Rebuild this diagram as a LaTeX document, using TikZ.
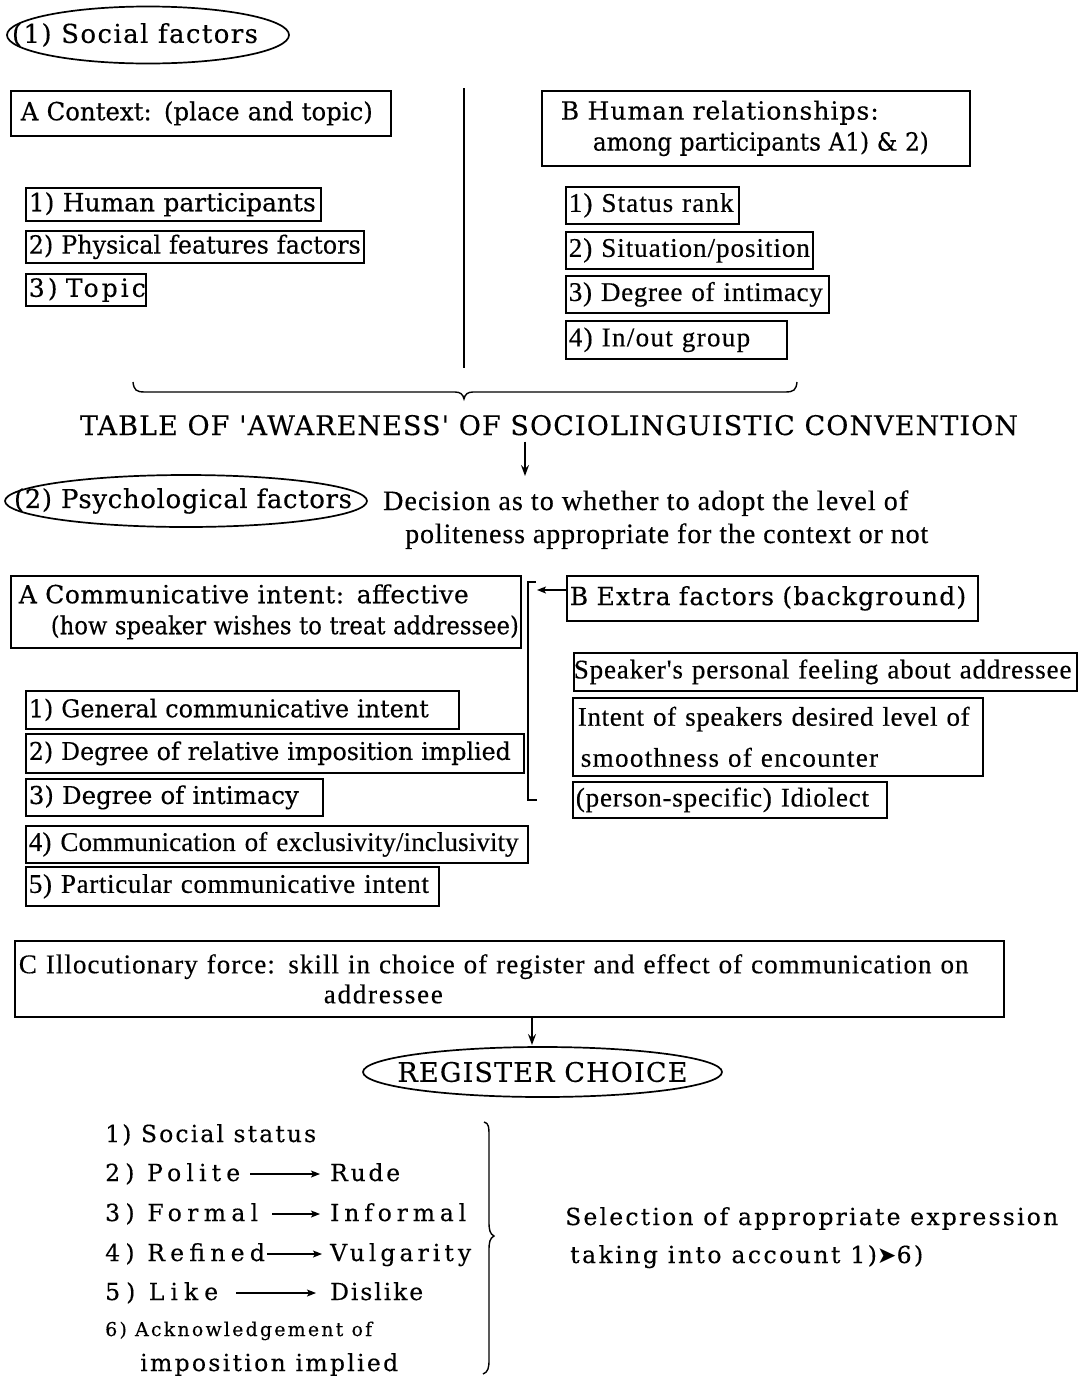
\documentclass[tikz,border=0pt]{standalone}
\usepackage{fontspec}
\usepackage{graphicx}
\setmainfont{Liberation Serif}[Ligatures=TeXOff, FakeBold=0.4]
\newfontfamily\wide{DejaVu Serif}[Ligatures=TeXOff, FakeBold=0.3]
\newfontfamily\symf{DejaVu Sans}
\usetikzlibrary{shapes.geometric,arrows.meta,calc}

% text set to a given width: letter-spaced when short, condensed when long
\ExplSyntaxOn
\box_new:N \l_fit_box
\fp_new:N \l_fit_fp
\int_new:N \l_fit_int
\NewDocumentCommand \fitw { O{} m m }
  {
    \hbox_set:Nn \l_fit_box { #3 }
    \fp_set:Nn \l_fit_fp { #2 - \dim_to_fp:n { \box_wd:N \l_fit_box } }
    \tl_if_blank:nTF {#1}
      { \int_set:Nn \l_fit_int { \str_count_ignore_spaces:n {#3} } }
      { \int_set:Nn \l_fit_int {#1} }
    \fp_compare:nNnTF { \l_fit_fp } > { 0 }
      {
        \mbox
          {
            \exp_args:Ne \addfontfeature
              { LetterSpace = \fp_eval:n { round ( 100 * \l_fit_fp / ( \l_fit_int - 1 ) / \dim_to_fp:n { \fontdimen6 \font } , 2 ) } }
            #3
          }
      }
      {
        \exp_args:Ne \scalebox
          { \fp_eval:n { round ( #2 / \dim_to_fp:n { \box_wd:N \l_fit_box } , 4 ) } }
          [1] { #3 }
      }
  }
\ExplSyntaxOff

% wide serif for the headings and boxes, narrow serif for the compact texts
\newcommand\fnA{\wide\fontsize{25}{31}\selectfont}
\newcommand\fnC{\wide\fontsize{24.5}{31}\selectfont}
\newcommand\fnE{\wide\fontsize{26}{31}\selectfont}
\newcommand\fnT{\wide\fontsize{27}{32}\selectfont}
\newcommand\fnR{\wide\fontsize{27}{32}\selectfont}
\newcommand\fnL{\wide\fontsize{23.5}{28}\selectfont}
\newcommand\fnS{\wide\fontsize{19}{22}\selectfont}
\newcommand\fnB{\fontsize{27}{30}\selectfont}
\newcommand\fnN{\fontsize{27}{31}\selectfont}
\newcommand\fnD{\fontsize{28}{31}\selectfont}
\newcommand\fnF{\fontsize{27}{30}\selectfont}

\tikzset{
  box/.style n args={2}{draw, line width=1.7pt, rectangle, anchor=north west,
    inner xsep=3pt, inner ysep=0pt, align=left, minimum height=#2pt,
    /utils/exec={\pgfmathsetlengthmacro\boxtw{#1-6}}, text width=\boxtw},
  ell/.style={draw, ellipse, line width=1.7pt, inner sep=0pt},
  plain/.style={inner sep=0pt, anchor=base west},
  ln/.style={line width=1.8pt},
  thinln/.style={line width=1.4pt},
  arr/.style={line width=1.3pt, -{Stealth[length=11pt,width=8pt,inset=4pt]}},
  larr/.style={line width=1.3pt, -{Stealth[length=9pt,width=7pt,inset=2pt]}},
}

\begin{document}
\begin{tikzpicture}[x=1pt,y=-1pt]
\fill[white] (0,0) rectangle (1083,1377);
\useasboundingbox (0,0) rectangle (1083,1377);

% ---- (1) social factors ----
\node[ell, minimum width=282pt, minimum height=57pt, font=\fnE] (sf) at (148,35)
  {\makebox[0pt]{\fitw{246}{(1) Social factors}\hspace{26pt}}};

\node[box={380}{45}, font=\fnA] (ctx) at (10,90) {\hspace*{7pt}\fitw{352}{A Context: (place and topic)}};
\node[box={295}{33}, font=\fnA] (hp) at (25,187) {\fitw{287}{1) Human participants}};
\node[box={338}{32}, font=\fnA] (pf) at (25,230) {\fitw{332}{2) Physical features factors}};
\node[box={120}{32}, font=\fnA] (tp) at (25,273) {\fitw{120}{3) Topic}};

\coordinate (vt) at (464,88);
\coordinate (vb) at (464,368);
\draw[ln] (vt) -- (vb);

\node[box={428}{75}, font=\fnA] (hr) at (541,90)
  {\hspace*{16pt}\fitw{320}{B Human relationships:}\\
   \hspace*{48pt}\fitw{336}{among participants A1) \& 2)}};
\node[box={173}{37}, font=\fnB] (sr) at (565,186) {\fitw{167}{1) Status rank}};
\node[box={247}{37}, font=\fnB] (sp) at (565,231) {\fitw{242}{2) Situation/position}};
\node[box={263}{37}, font=\fnB] (di) at (565,275) {\fitw{256}{3) Degree of intimacy}};
\node[box={221}{38}, font=\fnB] (io) at (565,320) {\fitw{184}{4) In/out group}};

% gathering brace
\draw[thinln] (133,382) .. controls (134,390) and (136,392) .. (145,392) -- (455,392)
  .. controls (460,392) and (463,394) .. (464,399)
  .. controls (465,394) and (468,392) .. (473,392) -- (785,392)
  .. controls (794,392) and (796,390) .. (797,382);

\node[inner sep=0pt, anchor=base, font=\fnT] (tbl) at (549,435)
  {\fitw{938}{TABLE OF 'AWARENESS' OF SOCIOLINGUISTIC CONVENTION}};
\coordinate (a1e) at (525,476);
\draw[arr] (tbl.south -| a1e) ++(0,6) -- (a1e);

% ---- (2) psychological factors ----
\node[ell, minimum width=362pt, minimum height=52pt, font=\fnE] (ps) at (186,501)
  {\makebox[0pt]{\fitw{338}{(2) Psychological factors}\hspace{6pt}}};
\node[plain, font=\fnD] (dec1) at (383,510) {\fitw{525}{Decision as to whether to adopt the level of}};
\node[plain, font=\fnD] (dec2) at (405,543) {\fitw{523}{politeness appropriate for the context or not}};

\node[box={510}{72}, font=\fnA] (aci) at (10,575)
  {\hspace*{5pt}\fitw{452}{A Communicative intent: affective}\\
   \hspace*{37pt}\fitw{468}{(how speaker wishes to treat addressee)}};
\node[box={411}{45}, font=\fnA] (bex) at (566,575) {\fitw{400}{B Extra factors (background)}};

% bracket joining the two columns
\coordinate (bk1) at (536,582);
\coordinate (bk2) at (528,582);
\coordinate (bk3) at (528,800);
\coordinate (bk4) at (537,800);
\draw[thinln] (bk1) -- (bk2) -- (bk3) -- (bk4);
\coordinate (bkt) at (537,590);
\draw[larr] (bex.west |- bkt) -- (bkt);

\node[box={433}{38}, font=\fnC] (g1) at (25,690) {\fitw{400}{1) General communicative intent}};
\node[box={498}{39}, font=\fnC] (g2) at (25,733) {\fitw{482}{2) Degree of relative imposition implied}};
\node[box={297}{37}, font=\fnC] (g3) at (25,778) {\fitw{270}{3) Degree of intimacy}};
\node[box={502}{37}, font=\fnN] (g4) at (25,825) {\fitw{490}{4) Communication of exclusivity/inclusivity}};
\node[box={413}{39}, font=\fnN] (g5) at (25,866) {\fitw{402}{5) Particular communicative intent}};

\node[box={503}{38}, font=\fnN] (s1) at (573,652) {\hspace*{-3pt}\fitw{501}{Speaker's personal feeling about addressee}};
\node[box={410}{78}, font=\fnN] (s2) at (572,697)
  {\hspace*{2pt}\fitw{395}{Intent of speakers desired level of}\\[10pt]
   \hspace*{5pt}\fitw{300}{smoothness of encounter}};
\node[box={314}{36}, font=\fnN] (s3) at (572,781) {\fitw{294}{(person-specific) Idiolect}};

% ---- C and register choice ----
\node[box={989}{76}, font=\fnF] (cb) at (14,940)
  {\hspace*{1pt}\fitw{962}{C Illocutionary force: skill in choice of register and effect of communication on}\\
   \hspace*{306pt}\fitw{119}{addressee}};
\coordinate (a2e) at (532,1045);
\draw[arr] (cb.south -| a2e) -- (a2e);

\node[ell, minimum width=359pt, minimum height=50pt, font=\fnR] (rc) at (542.5,1072)
  {\makebox[0pt]{\fitw{290}{REGISTER CHOICE}}};

\node[plain, font=\fnL] (l1) at (105,1142) {\fitw{211}{1) Social status}};
\node[plain, font=\fnL] (l2) at (105,1181) {\fitw{135}{2) Polite}};
\node[plain, font=\fnL] (r2) at (330,1181) {\fitw{70}{Rude}};
\node[plain, font=\fnL] (l3) at (105,1221) {\fitw{153}{3) Formal}};
\node[plain, font=\fnL] (r3) at (330,1221) {\fitw{136}{Informal}};
\node[plain, font=\fnL] (l4) at (105,1261) {\fitw{165}{4) Refined}};
\node[plain, font=\fnL] (r4) at (330,1261) {\fitw{141}{Vulgarity}};
\node[plain, font=\fnL] (l5) at (105,1300) {\fitw{113}{5) Like}};
\node[plain, font=\fnL] (r5) at (330,1300) {\fitw{93}{Dislike}};
\node[plain, font=\fnS] (l6) at (105,1336) {\fitw{267}{6) Acknowledgement of}};
\node[plain, font=\fnL] (l7) at (140,1371) {\fitw{258}{imposition implied}};

\draw[larr] ($(l2.base east)+(10,-7)$) -- ($(r2.base west)+(-10,-7)$);
\draw[larr] ($(l3.base east)+(14,-7)$) -- ($(r3.base west)+(-10,-7)$);
\draw[larr] ($(l4.base east)+(2,-7)$) -- ($(r4.base west)+(-8,-7)$);
\draw[larr] ($(l5.base east)+(18,-7)$) -- ($(r5.base west)+(-14,-7)$);

% closing brace of the list
\draw[thinln] (484,1122) .. controls (489,1123) and (489,1128) .. (489,1135) -- (489,1222)
  .. controls (489,1230) and (490,1234) .. (494,1236)
  .. controls (490,1238) and (489,1242) .. (489,1250) -- (489,1360)
  .. controls (489,1368) and (488,1372) .. (483,1374);

\node[plain, font=\fnL] (sel1) at (565,1225) {\fitw{493}{Selection of appropriate expression}};
\node[plain, font=\fnL] (sel2) at (570,1263) {\fitw[22]{358}{taking into account 1){\symf ➤}6)}};
\end{tikzpicture}
\end{document}
